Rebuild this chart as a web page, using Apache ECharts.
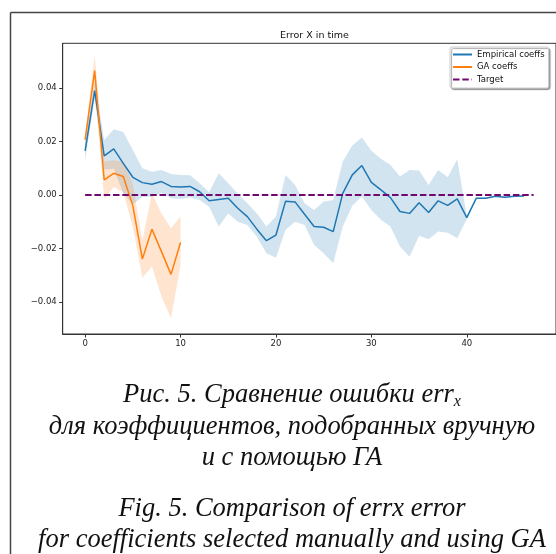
<!DOCTYPE html>
<html>
<head>
<meta charset="utf-8">
<script src="https://cdn.jsdelivr.net/npm/echarts@6/dist/echarts.min.js"></script>
<style>
  html, body { margin: 0; padding: 0; background: #fff; }
  #errChart { width: 556px; height: 554px; }
</style>
</head>
<body>
<div id="errChart"></div>
<script>
  // step index for each curve
  const empSteps = [0,1,2,3,4,5,6,7,8,9,10,11,12,13,14,15,16,17,18,19,20,21,22,23,24,25,26,27,28,29,30,31,32,33,34,35,36,37,38,39,40,41,42,43,44,45,46];
  const gaSteps = [0,1,2,3,4,5,6,7,8,9,10];
  const targetSteps = [0, 47];

  // Empirical coeffs: mean error and its shaded range
  const empMean = [0.0165, 0.039, 0.0146, 0.0172, 0.0118, 0.0066, 0.0046, 0.004, 0.005, 0.0032,
    0.003, 0.0032, 0.0012, -0.0022, -0.0017, -0.0012, -0.005, -0.0081, -0.0128, -0.0171,
    -0.015, -0.0024, -0.0026, -0.0072, -0.0118, -0.0121, -0.0137, 0.0006, 0.0075, 0.011,
    0.0047, 0.0019, -0.001, -0.0062, -0.0069, -0.0029, -0.0066, -0.0022, -0.0039, -0.0015,
    -0.0085, -0.0012, -0.0012, -0.0005, -0.0009, -0.0005, -0.0004];
  const empLow = [0.013, 0.036, 0.0095, 0.0098, 0.0005, -0.0035, -0.0008, -0.0007, 0.0007, -0.0012,
    -0.0015, -0.001, -0.0019, -0.0044, -0.0118, -0.0069, -0.01, -0.0112, -0.0156, -0.0218,
    -0.0235, -0.0131, -0.01, -0.0112, -0.0187, -0.0218, -0.0255, -0.0118, -0.004, -0.0006,
    -0.0056, -0.0093, -0.0118, -0.0193, -0.0231, -0.0153, -0.0166, -0.0137, -0.0141, -0.0162,
    -0.009, -0.0014, -0.0014, -0.0007, -0.0011, -0.0007, -0.0006];
  const empHigh = [0.019, 0.042, 0.0205, 0.0246, 0.0235, 0.0168, 0.01, 0.0087, 0.0093, 0.0078,
    0.0075, 0.0074, 0.0044, 0.001, 0.0081, 0.0044, 0.0004, -0.0031, -0.0069, -0.0118,
    -0.0081, 0.0075, 0.0037, -0.0031, -0.0056, -0.0025, -0.0019, 0.0125, 0.0185, 0.0215,
    0.0165, 0.0135, 0.0112, 0.0069, 0.0093, 0.0091, 0.0037, 0.0093, 0.0066, 0.0133,
    -0.008, -0.001, -0.001, -0.0003, -0.0007, -0.0003, -0.0002];

  // GA coeffs
  const gaMean = [0.0206, 0.0465, 0.0056, 0.0081, 0.0069, -0.004, -0.024, -0.0128, -0.0212, -0.0297, -0.0178];
  const gaLow = [0.0185, 0.041, -0.0015, 0.003, 0.001, -0.012, -0.031, -0.0268, -0.038, -0.0461, -0.0265];
  const gaHigh = [0.0225, 0.0522, 0.0125, 0.013, 0.0125, 0.004, -0.017, 0.0006, -0.0069, -0.0125, -0.0081];

  const targetVals = [0, 0];

  const xTicks = [0, 10, 20, 30, 40];
  const yTicks = [-0.04, -0.02, 0, 0.02, 0.04];

  const tickFont = '"DejaVu Sans", sans-serif';
  const serif = '"Liberation Serif", "DejaVu Serif", serif';

  function pairs(xs, ys) {
    return xs.map((x, i) => [x, ys[i]]);
  }

  // shaded range drawn as one polygon through the axis scales
  function band(xs, lo, hi, fill) {
    return {
      type: 'custom',
      silent: true,
      z: 1,
      data: xs.map((x, i) => [x, lo[i], hi[i]]),
      encode: { x: 0, y: [1, 2] },
      renderItem: function (params, api) {
        if (params.dataIndex !== 0) return null;
        const pts = [];
        for (let i = 0; i < xs.length; i++) pts.push(api.coord([xs[i], hi[i]]));
        for (let i = xs.length - 1; i >= 0; i--) pts.push(api.coord([xs[i], lo[i]]));
        return { type: 'polygon', shape: { points: pts }, style: { fill: fill } };
      }
    };
  }

  const chart = echarts.init(document.getElementById('errChart'));

  const captionLines = [
    { text: 'Рис. 5. Сравнение ошибки err{s|x}', y: 395 },
    { text: 'для коэффициентов, подобранных вручную', y: 427 },
    { text: 'и с помощью ГА', y: 458 },
    { text: 'Fig. 5. Comparison of errx error', y: 509 },
    { text: 'for coefficients selected manually and using GA', y: 540 }
  ];

  const option = {
    animation: false,
    title: {
      text: 'Error X in time',
      left: 309.5,
      textAlign: 'center',
      top: 26,
      textStyle: { fontFamily: tickFont, fontSize: 9.5, fontWeight: 'normal', color: '#111' }
    },
    grid: {
      left: 62.7,
      top: 43.3,
      width: 494,
      height: 290.7,
      show: true,
      borderColor: '#333',
      borderWidth: 1,
      backgroundColor: 'transparent'
    },
    legend: {
      orient: 'vertical',
      left: 450,
      top: 47,
      data: ['Empirical coeffs', 'GA coeffs', 'Target'],
      itemWidth: 19,
      itemHeight: 10,
      itemGap: 3.5,
      padding: [3, 4, 4, 2],
      itemStyle: { opacity: 0 },
      backgroundColor: '#fff',
      borderColor: '#cccccc',
      borderWidth: 1,
      borderRadius: 2,
      shadowColor: 'rgba(0,0,0,0.35)',
      shadowOffsetX: 1.5,
      shadowOffsetY: 1.5,
      shadowBlur: 1,
      textStyle: { fontFamily: tickFont, fontSize: 8.5, color: '#111' }
    },
    xAxis: {
      type: 'value',
      min: -2.35,
      max: 49.35,
      splitLine: { show: false },
      axisLine: { onZero: false, lineStyle: { color: '#333', width: 1 } },
      axisTick: { customValues: xTicks, length: 3.5, lineStyle: { color: '#333' } },
      axisLabel: {
        customValues: xTicks,
        margin: 5,
        fontFamily: tickFont,
        fontSize: 8.5,
        color: '#222'
      }
    },
    yAxis: {
      type: 'value',
      min: -0.052,
      max: 0.0567,
      splitLine: { show: false },
      axisLine: { show: true, onZero: false, lineStyle: { color: '#333', width: 1 } },
      axisTick: { show: true, customValues: yTicks, length: 3.5, lineStyle: { color: '#333' } },
      axisLabel: {
        customValues: yTicks,
        margin: 6,
        fontFamily: tickFont,
        fontSize: 8.5,
        color: '#222',
        formatter: v => (Math.abs(v) < 1e-9 ? '0.00' : v.toFixed(2).replace('-', '\u2212'))
      }
    },
    graphic: [
      { type: 'line', shape: { x1: 10.5, y1: 12.5, x2: 556, y2: 12.5 }, style: { stroke: '#444', lineWidth: 1.5 } },
      { type: 'line', shape: { x1: 10.5, y1: 12.5, x2: 10.5, y2: 554 }, style: { stroke: '#444', lineWidth: 1.5 } }
    ].concat(captionLines.map(c => ({
      type: 'text',
      x: 292,
      y: c.y,
      style: {
        text: c.text,
        font: 'italic 26.5px ' + serif,
        fill: '#111',
        align: 'center',
        verticalAlign: 'middle',
        rich: {
          s: { font: 'italic 16px ' + serif, fill: '#111', padding: [14, 0, 0, 0] }
        }
      }
    }))),
    series: [
      band(empSteps, empLow, empHigh, 'rgba(31,119,180,0.2)'),
      band(gaSteps, gaLow, gaHigh, 'rgba(255,127,14,0.2)'),
      {
        name: 'Empirical coeffs',
        type: 'line',
        z: 3,
        data: pairs(empSteps, empMean),
        symbol: 'none',
        color: '#1f77b4',
        lineStyle: { color: '#1f77b4', width: 1.5 }
      },
      {
        name: 'GA coeffs',
        type: 'line',
        z: 3,
        data: pairs(gaSteps, gaMean),
        symbol: 'none',
        color: '#ff7f0e',
        lineStyle: { color: '#ff7f0e', width: 1.5 }
      },
      {
        name: 'Target',
        type: 'line',
        z: 4,
        data: pairs(targetSteps, targetVals),
        symbol: 'none',
        color: '#700870',
        lineStyle: { color: '#700870', width: 2, type: [6.5, 2.8] }
      }
    ]
  };

  chart.setOption(option);
  window.addEventListener('resize', () => { chart.resize(); });
</script>
</body>
</html>
